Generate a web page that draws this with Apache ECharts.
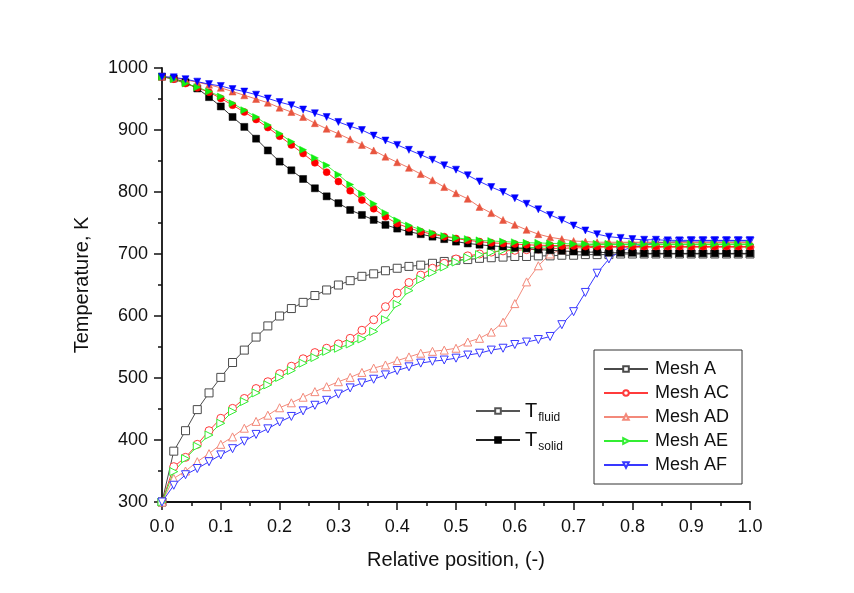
<!DOCTYPE html>
<html>
<head>
<meta charset="utf-8">
<script src="https://cdn.jsdelivr.net/npm/echarts@6/dist/echarts.min.js"></script>
<style>
html,body{margin:0;padding:0;background:#fff;}
#chart{width:854px;height:593px;}
</style>
</head>
<body>
<div id="chart"></div>
<script>
// Relative position (x)
var xs = [0.00,0.02,0.04,0.06,0.08,0.10,0.12,0.14,0.16,0.18,
          0.20,0.22,0.24,0.26,0.28,0.30,0.32,0.34,0.36,0.38,
          0.40,0.42,0.44,0.46,0.48,0.50,0.52,0.54,0.56,0.58,
          0.60,0.62,0.64,0.66,0.68,0.70,0.72,0.74,0.76,0.78,
          0.80,0.82,0.84,0.86,0.88,0.90,0.92,0.94,0.96,0.98,1.00];

// Solid temperatures (filled markers)
var solidA  = [986,983,977,967,953,938,921,905,886,867,
               849,835,821,806,793,782,771,763,755,747,
               741,736,732,728,724,720,717,715,713,712,
               710,709,707,706,705,704,703,703,702,702,
               702,701,701,701,701,701,701,701,701,701,701];
var solidAC = [986,982,975,968,961,951,940,929,917,904,
               890,876,862,847,832,817,802,787,773,760,
               749,742,736,732,728,725,722,720,718,717,
               716,715,714,714,713,713,712,712,712,712,
               712,712,712,712,712,712,712,712,712,712,712];
var solidAD = [986,984,981,977,973,968,962,956,950,944,
               936,929,921,911,902,894,885,876,867,857,
               848,839,829,819,808,798,789,776,766,755,
               747,739,732,727,724,721,720,719,719,719,
               719,719,719,719,719,719,719,719,719,719,719];
var solidAE = [986,982,975,969,962,954,943,932,921,908,
               894,881,868,855,843,828,812,797,781,766,
               754,746,739,734,729,726,724,722,721,720,
               719,718,718,717,717,716,716,716,716,716,
               716,716,716,716,716,716,716,716,716,716,716];
var solidAF = [986,985,982,978,974,971,966,962,957,951,
               945,940,933,927,921,913,906,900,891,883,
               876,868,860,852,843,836,827,817,808,800,
               790,781,772,763,755,746,738,732,728,726,
               724,723,723,722,722,722,722,722,722,722,722];

// Fluid temperatures (open markers)
var fluidA  = [300,382,415,449,476,501,525,545,566,584,
               600,612,622,633,642,650,657,664,668,673,
               677,680,682,685,688,690,691,693,694,695,
               696,696,697,697,698,698,699,699,699,700,
               700,700,700,700,700,700,700,700,700,700,700];
var fluidAC = [300,357,372,393,415,435,451,467,483,494,
               507,519,531,541,548,555,564,577,594,615,
               637,654,666,677,685,692,697,700,703,705,
               706,707,708,709,709,710,710,711,711,711,
               711,711,711,711,711,711,711,711,711,711,711];
var fluidAD = [300,338,350,365,378,393,405,419,430,440,
               452,460,469,478,486,494,501,509,516,521,
               528,534,540,543,545,548,558,564,574,590,
               620,655,681,700,707,711,714,716,717,718,
               718,718,718,718,718,718,718,718,718,718,718];
var fluidAE = [300,349,370,390,408,427,446,462,476,489,
               501,512,524,533,543,548,555,563,575,594,
               619,641,659,670,679,687,694,699,703,706,
               708,710,711,712,713,714,714,715,715,715,
               715,715,715,715,715,715,715,715,715,715,715];
var fluidAF = [300,327,344,354,365,376,386,398,409,418,
               429,438,447,456,464,474,484,492,498,505,
               512,518,524,527,529,532,537,540,545,548,
               554,558,562,567,586,607,638,669,692,705,
               711,715,718,719,720,721,721,721,721,721,721];

var meshNames = ['Mesh A','Mesh AC','Mesh AD','Mesh AE','Mesh AF'];
var solidColors = ['#000000','#ff0000','#e8553f','#11ee11','#0000ff'];
var fluidColors = ['#4a4a4a','#ff3b3b','#f3897a','#33ee33','#3838ff'];
var symbols = ['rect','circle','triangle','path://M0,0 L10,5 L0,10 Z','path://M0,0 L10,0 L5,10 Z'];
var solids = [solidA, solidAC, solidAD, solidAE, solidAF];
var fluids = [fluidA, fluidAC, fluidAD, fluidAE, fluidAF];

function pairs(arr){ return xs.map(function(x,i){ return [x, arr[i]]; }); }

var series = [];
for (var k = 0; k < 5; k++) {
  series.push({
    name: meshNames[k],
    type: 'line',
    data: pairs(fluids[k]),
    symbol: symbols[k],
    symbolSize: 8,
    showAllSymbol: true,
    z: 2,
    lineStyle: {color: fluidColors[k], width: 1},
    itemStyle: {color: '#ffffff', borderColor: fluidColors[k], borderWidth: 1},
    emphasis: {disabled: true},
    animation: false
  });
}
for (var k2 = 0; k2 < 5; k2++) {
  series.push({
    name: meshNames[k2] + ' solid',
    type: 'line',
    data: pairs(solids[k2]),
    symbol: symbols[k2],
    symbolSize: 7,
    showAllSymbol: true,
    z: 3,
    lineStyle: {color: solidColors[k2], width: 1, opacity: 0.8},
    itemStyle: {color: solidColors[k2], borderColor: solidColors[k2], borderWidth: 0.5},
    emphasis: {disabled: true},
    animation: false
  });
}
// legend-only entries for the fluid/solid key
series.push({
  name: 'T_fluid', type: 'line', data: [], symbol: 'rect', symbolSize: 8,
  lineStyle: {color: '#555555', width: 1},
  itemStyle: {color: '#ffffff', borderColor: '#555555', borderWidth: 1}
});
series.push({
  name: 'T_solid', type: 'line', data: [], symbol: 'rect', symbolSize: 8,
  lineStyle: {color: '#222222', width: 1},
  itemStyle: {color: '#000000', borderColor: '#000000', borderWidth: 1}
});

var font = 'Liberation Sans, Arial, sans-serif';

var option = {
  backgroundColor: '#ffffff',
  animation: false,
  grid: {left: 162, top: 68, right: 104, bottom: 91, containLabel: false},
  xAxis: {
    type: 'value', min: 0, max: 1, interval: 0.1,
    name: 'Relative position, (-)', nameLocation: 'middle', nameGap: 48,
    nameTextStyle: {fontSize: 20, color: '#111', fontFamily: font},
    axisLine: {lineStyle: {color: '#111', width: 1.8}},
    axisTick: {show: true, inside: false, length: 8, lineStyle: {color: '#111', width: 1.5}},
    minorTick: {show: true, splitNumber: 2, length: 4, lineStyle: {color: '#111', width: 1.5}},
    splitLine: {show: false},
    axisLabel: {fontSize: 18, color: '#111', margin: 16, fontFamily: font,
      formatter: function(v){ return v.toFixed(1); }}
  },
  yAxis: {
    type: 'value', min: 300, max: 1000, interval: 100,
    name: 'Temperature, K', nameLocation: 'middle', nameGap: 70,
    nameTextStyle: {fontSize: 20, color: '#111', fontFamily: font},
    axisLine: {show: true, lineStyle: {color: '#111', width: 1.8}},
    axisTick: {show: true, inside: false, length: 8, lineStyle: {color: '#111', width: 1.5}},
    minorTick: {show: true, splitNumber: 2, length: 4, lineStyle: {color: '#111', width: 1.5}},
    splitLine: {show: false},
    axisLabel: {fontSize: 18, color: '#111', margin: 14, fontFamily: font,
      formatter: function(v){ return String(v); }}
  },
  legend: [{
    data: meshNames,
    orient: 'vertical',
    left: 594, top: 350,
    padding: [10, 13, 10, 9],
    itemGap: 6,
    itemWidth: 44, itemHeight: 7,
    borderColor: '#333', borderWidth: 1, borderRadius: 0,
    selectedMode: false,
    textStyle: {fontSize: 18, color: '#111', fontFamily: font, padding: [0,0,0,2], lineHeight: 18}
  }, {
    data: ['T_fluid', 'T_solid'],
    orient: 'vertical',
    left: 470, top: 396,
    itemGap: 6,
    itemWidth: 44, itemHeight: 7,
    selectedMode: false,
    formatter: function(n){ return n === 'T_fluid' ? '{t|T}{s|fluid}' : '{t|T}{s|solid}'; },
    textStyle: {
      fontFamily: font, color: '#111',
      rich: {
        t: {fontSize: 20, fontFamily: font, color: '#111'},
        s: {fontSize: 12, fontFamily: font, color: '#111', padding: [14, 0, 0, 1]}
      }
    }
  }],
  series: series
};

var chart = echarts.init(document.getElementById('chart'), null, {renderer: 'canvas'});
chart.setOption(option);
</script>
</body>
</html>
